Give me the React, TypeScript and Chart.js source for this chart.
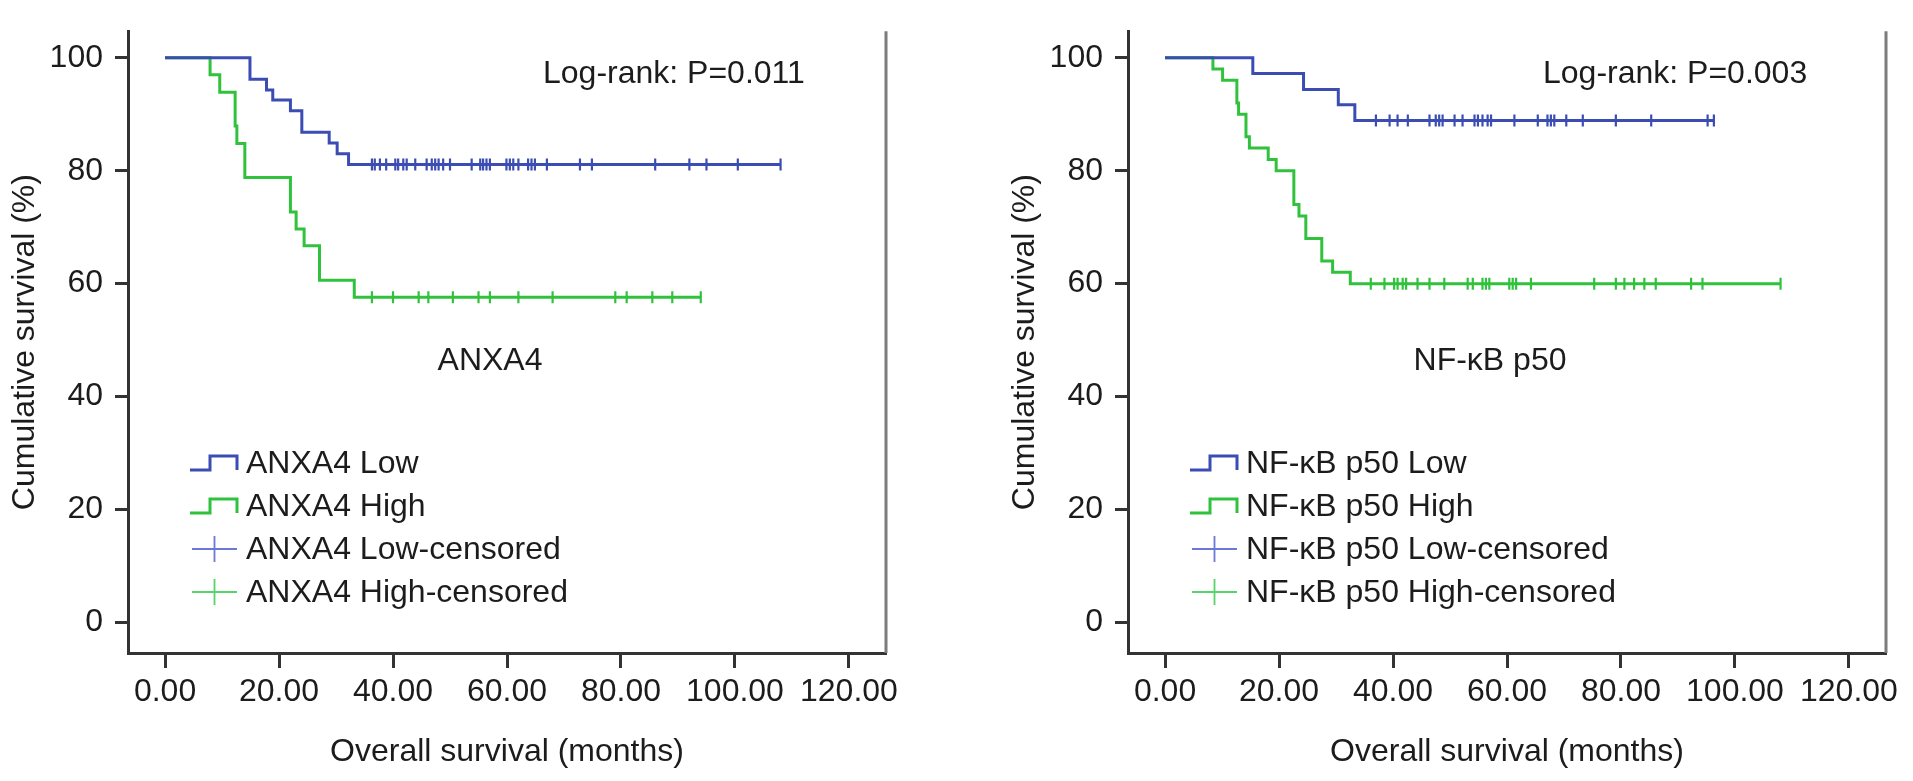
import React, { useEffect, useRef } from "react";
import { Chart, registerables } from "chart.js";

Chart.register(...registerables);

// ---------- data ----------
const X_TICKS = [0, 20, 40, 60, 80, 100, 120];
const Y_TICKS = [0, 20, 40, 60, 80, 100];

// ANXA4 panel
const anxaLowTimes = [0, 14.9, 17.8, 18.9, 22.0, 24.0, 28.8, 30.2, 32.2, 108];
const anxaLowSurv = [100, 96.2, 94.3, 92.5, 90.6, 86.8, 84.9, 83.0, 81.1, 81.1];
const anxaLowCensored = [36.3, 36.8, 37.7, 38.8, 40.4, 40.9, 41.8, 42.4, 43.9, 45.9, 46.8, 47.4, 48.0, 48.8, 50.0, 53.8, 55.3, 55.8, 56.4, 57.0, 59.9, 60.5, 61.1, 62.0, 63.7, 64.3, 64.9, 67.0, 72.8, 74.9, 86.0, 92.0, 95.0, 100.5, 108.0];

const anxaHighTimes = [0, 7.9, 9.6, 12.3, 12.6, 14.0, 22.0, 23.0, 24.4, 27.1, 33.2, 94];
const anxaHighSurv = [100, 97.0, 93.9, 87.9, 84.8, 78.8, 72.7, 69.7, 66.7, 60.6, 57.6, 57.6];
const anxaHighCensored = [36.3, 40.0, 44.5, 46.2, 50.5, 55.0, 57.0, 62.0, 68.0, 79.0, 81.0, 85.5, 89.0, 94.0];

// NF-κB p50 panel
const nfLowTimes = [0, 15.4, 24.3, 30.4, 33.3, 96.3];
const nfLowSurv = [100, 97.2, 94.4, 91.7, 88.9, 88.9];
const nfLowCensored = [37.0, 39.4, 40.8, 42.6, 46.4, 47.5, 48.1, 48.7, 50.8, 52.2, 54.3, 54.9, 55.7, 56.6, 57.2, 61.3, 65.4, 67.1, 67.7, 68.3, 70.4, 73.3, 79.1, 85.3, 95.2, 96.3];

const nfHighTimes = [0, 8.4, 10.1, 12.6, 12.9, 14.2, 14.8, 18.1, 19.5, 22.6, 23.5, 24.7, 27.5, 29.4, 32.5, 108];
const nfHighSurv = [100, 98, 96, 92, 90, 86, 84, 82, 80, 74, 72, 68, 64, 62, 60, 60];
const nfHighCensored = [36.1, 38.5, 40.2, 40.8, 41.7, 42.3, 44.3, 46.4, 49.0, 53.1, 54.0, 55.7, 56.3, 56.9, 60.4, 61.0, 61.6, 64.2, 75.3, 79.1, 80.6, 82.3, 84.1, 86.1, 92.3, 94.3, 108.0];

// ---------- styling ----------
const FONT = '"Liberation Sans", Arial, Helvetica, sans-serif';
const TEXT = "#1c1c1c";
const BLUE = "#3b4db3";
const GREEN = "#30c23c";
const BLUE_LIGHT = "#6c78d8";
const GREEN_LIGHT = "#55d46a";
const AXIS = "#333333";

function survAt(times: number[], surv: number[], t: number) {
  let v = surv[0];
  for (let i = 0; i < times.length; i++) {
    if (times[i] <= t) v = surv[i];
  }
  return v;
}

type PanelProps = {
  width: number;
  lowTimes: number[];
  lowSurv: number[];
  lowCensored: number[];
  highTimes: number[];
  highSurv: number[];
  highCensored: number[];
  legendLabels: string[];
  pText: string;
  groupLabel: string;
};

function Panel(props: PanelProps) {
  const ref = useRef<HTMLCanvasElement | null>(null);
  useEffect(() => {
    if (!ref.current) return;
    const H = 781;
    const W = props.width;
    const overlay = {
      id: "overlay",
      afterDraw(chart: any) {
        const { ctx, chartArea } = chart;
        ctx.save();
        // right frame line
        ctx.strokeStyle = "#7c7c7c";
        ctx.lineWidth = 3;
        ctx.beginPath();
        ctx.moveTo(chartArea.right, chartArea.top);
        ctx.lineTo(chartArea.right, chartArea.bottom);
        ctx.stroke();

        ctx.fillStyle = TEXT;
        ctx.font = `32px ${FONT}`;
        ctx.textBaseline = "alphabetic";
        ctx.textAlign = "left";
        ctx.fillText(props.pText, 543, 83);
        ctx.textAlign = "center";
        ctx.fillText(props.groupLabel, 490, 370);

        // legend
        const rows = [463, 506, 549, 592];
        const xText = 246;
        ctx.textAlign = "left";
        ctx.textBaseline = "middle";
        const steps = [BLUE, GREEN];
        steps.forEach((c, i) => {
          const y = rows[i];
          ctx.strokeStyle = c;
          ctx.lineWidth = 3;
          ctx.beginPath();
          ctx.moveTo(190, y + 7);
          ctx.lineTo(210, y + 7);
          ctx.lineTo(210, y - 7);
          ctx.lineTo(237, y - 7);
          ctx.lineTo(237, y + 7);
          ctx.stroke();
        });
        const plus = [BLUE_LIGHT, GREEN_LIGHT];
        plus.forEach((c, i) => {
          const y = rows[i + 2];
          ctx.strokeStyle = c;
          ctx.lineWidth = 1.8;
          ctx.beginPath();
          ctx.moveTo(192, y);
          ctx.lineTo(237, y);
          ctx.moveTo(214.5, y - 13);
          ctx.lineTo(214.5, y + 13);
          ctx.stroke();
        });
        ctx.fillStyle = TEXT;
        props.legendLabels.forEach((l, i) => ctx.fillText(l, xText, rows[i] + 1));
        ctx.restore();
      },
    };

    const tickFont = { family: FONT, size: 32, lineHeight: 1.2 };
    const chart = new Chart(ref.current, {
      type: "line",
      data: {
        datasets: [
          {
            data: props.lowTimes.map((t, i) => ({ x: t, y: props.lowSurv[i] })),
            stepped: true,
            borderColor: BLUE,
            borderWidth: 3,
            pointRadius: 0,
            fill: false,
          },
          {
            data: props.highTimes.map((t, i) => ({ x: t, y: props.highSurv[i] })),
            stepped: true,
            borderColor: GREEN,
            borderWidth: 3,
            pointRadius: 0,
            fill: false,
          },
          {
            data: props.lowCensored.map((t) => ({ x: t, y: survAt(props.lowTimes, props.lowSurv, t) })),
            showLine: false,
            pointStyle: "line",
            rotation: 90,
            pointRadius: 6,
            pointBorderWidth: 2.2,
            pointBorderColor: BLUE,
            borderColor: BLUE,
          },
          {
            data: props.highCensored.map((t) => ({ x: t, y: survAt(props.highTimes, props.highSurv, t) })),
            showLine: false,
            pointStyle: "line",
            rotation: 90,
            pointRadius: 6,
            pointBorderWidth: 2.2,
            pointBorderColor: GREEN,
            borderColor: GREEN,
          },
        ],
      } as any,
      options: {
        animation: false,
        responsive: false,
        devicePixelRatio: 1,
        layout: { padding: { left: 0, right: W - 886, top: 20, bottom: 0 } },
        plugins: { legend: { display: false }, tooltip: { enabled: false } },
        scales: {
          x: {
            type: "linear",
            min: -6.5,
            max: 126.5,
            afterBuildTicks: (s: any) => {
              s.ticks = X_TICKS.map((v) => ({ value: v }));
            },
            afterFit: (s: any) => {
              s.height = H - 653;
            },
            ticks: {
              font: tickFont,
              color: TEXT,
              padding: 5,
              maxRotation: 0,
              autoSkip: false,
              callback: (v: any) => Number(v).toFixed(2),
            },
            grid: {
              drawOnChartArea: false,
              drawTicks: true,
              tickLength: 15,
              tickWidth: 3,
              tickColor: AXIS,
            },
            border: { display: true, color: AXIS, width: 3 },
            title: {
              display: true,
              text: "Overall survival (months)",
              font: tickFont,
              color: TEXT,
              padding: { top: 0, bottom: 10 },
            },
          },
          y: {
            type: "linear",
            min: -5.39,
            max: 104.7,
            afterBuildTicks: (s: any) => {
              s.ticks = Y_TICKS.map((v) => ({ value: v }));
            },
            afterFit: (s: any) => {
              s.width = 128;
            },
            ticks: {
              font: tickFont,
              color: TEXT,
              padding: 12,
              autoSkip: false,
              callback: (v: any) => String(v),
            },
            grid: {
              drawOnChartArea: false,
              drawTicks: true,
              tickLength: 13,
              tickWidth: 3,
              tickColor: AXIS,
            },
            border: { display: true, color: AXIS, width: 3 },
            title: {
              display: true,
              text: "Cumulative survival (%)",
              font: tickFont,
              color: TEXT,
              padding: { top: 6, bottom: 0 },
            },
          },
        },
      } as any,
      plugins: [overlay],
    });
    return () => chart.destroy();
  }, []);
  return <canvas ref={ref} width={props.width} height={781} style={{ display: "block", width: props.width, height: 781 }} />;
}

export default function App() {
  return (
    <div style={{ position: "fixed", left: 0, top: 0, width: 1913, height: 781, background: "#fff", display: "flex" }}>
      <Panel
        width={1000}
        lowTimes={anxaLowTimes}
        lowSurv={anxaLowSurv}
        lowCensored={anxaLowCensored}
        highTimes={anxaHighTimes}
        highSurv={anxaHighSurv}
        highCensored={anxaHighCensored}
        legendLabels={["ANXA4 Low", "ANXA4 High", "ANXA4 Low-censored", "ANXA4 High-censored"]}
        pText="Log-rank: P=0.011"
        groupLabel="ANXA4"
      />
      <Panel
        width={913}
        lowTimes={nfLowTimes}
        lowSurv={nfLowSurv}
        lowCensored={nfLowCensored}
        highTimes={nfHighTimes}
        highSurv={nfHighSurv}
        highCensored={nfHighCensored}
        legendLabels={["NF-κB p50 Low", "NF-κB p50 High", "NF-κB p50 Low-censored", "NF-κB p50 High-censored"]}
        pText="Log-rank: P=0.003"
        groupLabel="NF-κB p50"
      />
    </div>
  );
}
